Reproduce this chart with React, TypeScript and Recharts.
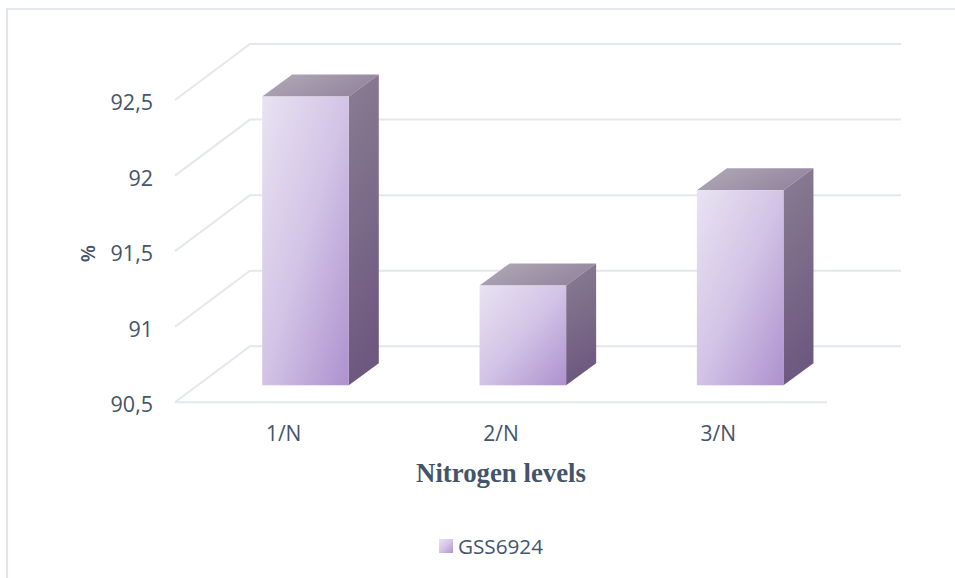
import React from "react";
import { BarChart, Bar, XAxis, YAxis, CartesianGrid, Legend, Label } from "recharts";

const categories = ["1/N", "2/N", "3/N"];
const seriesName = "GSS6924";
const seriesValues = [92.41, 91.16, 91.79];
const yTicks = [90.5, 91, 91.5, 92, 92.5];

const rows = categories.map((level, i) => ({ level, [seriesName]: seriesValues[i] }));

const INK = "#44546a";
const RULE = "#e4e7ec";
const SANS = "'Open Sans', sans-serif";

// Isometric offsets: the back wall of the chart box, and the place and depth of each bar inside it.
const WALL = { dx: 75, dy: -56, right: 74 };
const BAR_SHIFT = { dx: 22.2, dy: -17 };
const BAR_DEPTH = { dx: 30, dy: -22 };

function Column(props: any) {
  const x = props.x + BAR_SHIFT.dx;
  const y = props.y + BAR_SHIFT.dy;
  const w = props.width;
  const h = props.height;
  const { dx, dy } = BAR_DEPTH;
  return (
    <g>
      <path
        d={`M${x},${y} L${x + dx},${y + dy} H${x + w + dx} L${x + w},${y} Z`}
        fill="url(#columnTop)"
      />
      <path
        d={`M${x + w},${y} L${x + w + dx},${y + dy} V${y + h + dy} L${x + w},${y + h} Z`}
        fill="url(#columnSide)"
      />
      <rect x={x} y={y} width={w} height={h} fill="url(#columnFront)" />
    </g>
  );
}

// One grid rule: from the front edge, up the side wall, then along the back wall.
function WallRule(props: any) {
  const { x1, x2, y1 } = props;
  return (
    <path
      d={`M${x1},${y1} L${x1 + WALL.dx},${y1 + WALL.dy} H${x2 + WALL.right}`}
      fill="none"
      stroke={RULE}
      strokeWidth={2}
    />
  );
}

function LegendEntry() {
  return (
    <div
      style={{
        display: "flex",
        alignItems: "center",
        justifyContent: "center",
        color: INK,
        fontFamily: SANS,
        fontSize: 20.7,
        lineHeight: "24px",
      }}
    >
      <span
        style={{
          display: "inline-block",
          width: 14,
          height: 14,
          marginRight: 5,
          background: "linear-gradient(135deg, #e8e3f2 0%, #d4c4e7 50%, #ae93cf 100%)",
        }}
      />
      {seriesName}
    </div>
  );
}

export default function App() {
  return (
    <div style={{ position: "absolute", left: 0, top: 0, width: 955, height: 578, background: "#fff", overflow: "hidden" }}>
      <div style={{ position: "absolute", left: 6, top: 8, right: 0, height: 1.5, background: "#e6e9ee" }} />
      <div style={{ position: "absolute", left: 6, top: 8, bottom: 0, width: 2, background: "#e2e5eb" }} />
      <BarChart
        width={955}
        height={578}
        data={rows}
        margin={{ top: 100, right: 128, bottom: 0, left: 0 }}
        style={{ position: "absolute", left: 0, top: 0 }}
      >
        <defs>
          <linearGradient id="columnFront" x1="0" y1="0" x2="1" y2="1">
            <stop offset="0%" stopColor="#e8e3f2" />
            <stop offset="50%" stopColor="#d3c3e6" />
            <stop offset="100%" stopColor="#ad91ce" />
          </linearGradient>
          <linearGradient id="columnSide" x1="0" y1="0" x2="0.15" y2="1">
            <stop offset="0%" stopColor="#8a7d92" />
            <stop offset="100%" stopColor="#6d587f" />
          </linearGradient>
          <linearGradient id="columnTop" x1="0" y1="0" x2="1" y2="0.4">
            <stop offset="0%" stopColor="#b0acb8" />
            <stop offset="100%" stopColor="#96869f" />
          </linearGradient>
        </defs>
        <CartesianGrid vertical={false} horizontal={(p: any) => <WallRule key={p.index} {...p} />} />
        <XAxis
          dataKey="level"
          height={175.7}
          axisLine={{ stroke: RULE, strokeWidth: 2 }}
          tickLine={false}
          tickMargin={18}
          tick={{ fill: INK, fontFamily: SANS, fontSize: 21 }}
        >
          <Label
            value="Nitrogen levels"
            position="insideTop"
            offset={59}
            dy={2}
            fill={INK}
            fontFamily="'Liberation Serif', serif"
            fontWeight={700}
            fontSize={26.8}
          />
        </XAxis>
        <YAxis
          width={175}
          domain={[90.5, 92.5]}
          ticks={yTicks}
          axisLine={false}
          tickLine={false}
          tickMargin={16}
          tickFormatter={(v: number) => String(v).replace(".", ",")}
          tick={{ fill: INK, fontFamily: SANS, fontSize: 21.5, dy: 2.5 }}
        >
          <Label
            value="%"
            angle={-90}
            position="insideLeft"
            offset={88}
            dy={11}
            fill={INK}
            fontFamily={SANS}
            fontWeight={600}
            fontSize={20}
          />
        </YAxis>
        <Legend
          layout="horizontal"
          verticalAlign="middle"
          align="center"
          content={<LegendEntry />}
          wrapperStyle={{ top: 534, left: 0, width: 982, height: 24 }}
        />
        <Bar dataKey={seriesName} barSize={86.6} shape={<Column />} isAnimationActive={false} />
      </BarChart>
    </div>
  );
}
